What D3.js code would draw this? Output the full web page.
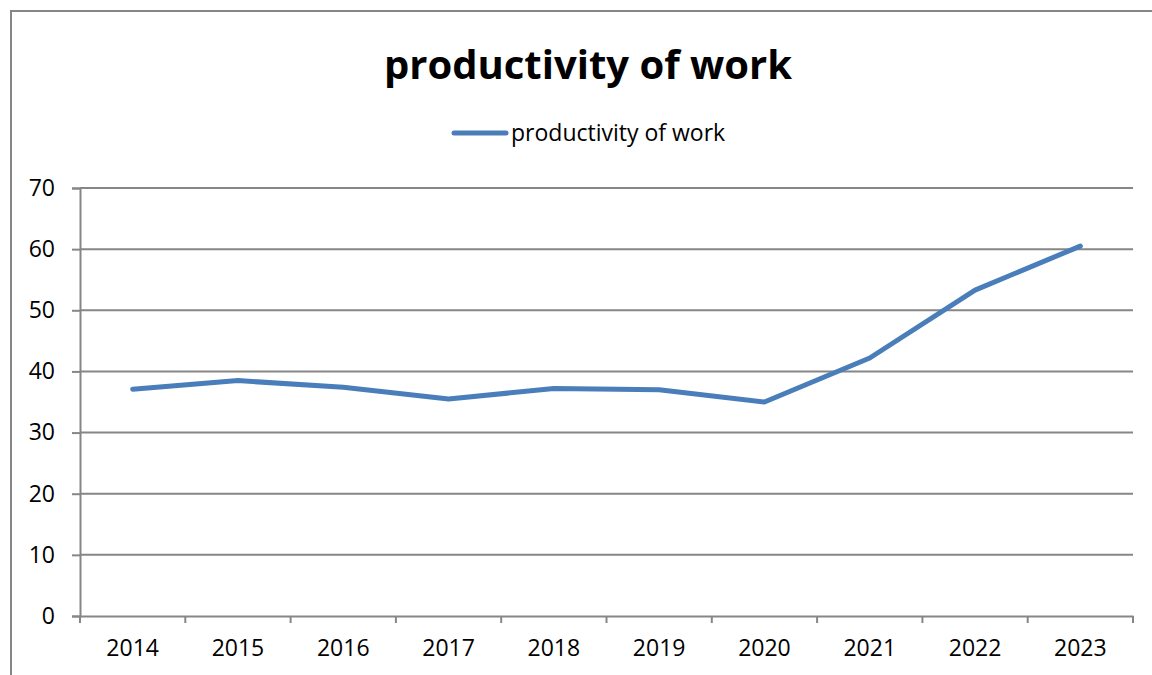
<!DOCTYPE html>
<html>
<head>
<meta charset="utf-8">
<script src="https://cdn.jsdelivr.net/npm/d3@7"></script>
<style>
  body { margin: 0; background: #fff; }
  text { font-family: "Open Sans", sans-serif; fill: #000; }
</style>
</head>
<body>
<div id="chart"></div>
<script>
// data
const years = ["2014", "2015", "2016", "2017", "2018", "2019", "2020", "2021", "2022", "2023"];
const productivity = [37.1, 38.5, 37.4, 35.5, 37.2, 37.0, 35.0, 42.2, 53.3, 60.5];
const yTicks = [0, 10, 20, 30, 40, 50, 60, 70];
const seriesName = "productivity of work";

const W = 1152, H = 675;
const MARGIN = { LEFT: 80, RIGHT: 19, TOP: 188, BOTTOM: 59 };
const WIDTH = W - MARGIN.LEFT - MARGIN.RIGHT;
const HEIGHT = H - MARGIN.TOP - MARGIN.BOTTOM;
const lineColor = "#4a7ebb", gridColor = "#868686";

const svg = d3.select("#chart").append("svg")
  .attr("width", W)
  .attr("height", H);

// outer frame
svg.append("rect")
  .attr("x", 11).attr("y", 11)
  .attr("width", 1160).attr("height", 700)
  .attr("fill", "none")
  .attr("stroke", gridColor)
  .attr("stroke-width", 2);

// title
svg.append("text")
  .attr("x", 588).attr("y", 79)
  .attr("text-anchor", "middle")
  .style("font-size", "40px")
  .style("font-weight", "bold")
  .text(seriesName);

// legend
svg.append("line")
  .attr("x1", 454).attr("x2", 506)
  .attr("y1", 133).attr("y2", 133)
  .attr("stroke", lineColor)
  .attr("stroke-width", 5)
  .attr("stroke-linecap", "round");
svg.append("text")
  .attr("x", 511).attr("y", 141)
  .style("font-size", "23px")
  .text(seriesName);

const g = svg.append("g")
  .attr("transform", `translate(${MARGIN.LEFT}, ${MARGIN.TOP})`);

const x = d3.scaleBand()
  .domain(years)
  .range([0, WIDTH]);

const y = d3.scaleLinear()
  .domain([0, 70])
  .range([HEIGHT, 0]);

// horizontal gridlines
g.selectAll(".grid")
  .data(yTicks.filter(d => d > 0))
  .join("line")
  .attr("class", "grid")
  .attr("x1", 0).attr("x2", WIDTH)
  .attr("y1", d => y(d)).attr("y2", d => y(d))
  .attr("stroke", gridColor)
  .attr("stroke-width", 2);

// y axis
const yAxis = g.append("g")
  .call(d3.axisLeft(y).tickValues(yTicks).tickSize(8).tickPadding(17));
yAxis.select(".domain").attr("stroke", gridColor).attr("stroke-width", 2);
yAxis.selectAll(".tick line").attr("stroke", gridColor).attr("stroke-width", 2);
yAxis.selectAll(".tick text").style("font-size", "23px").attr("fill", "#000");

// x axis, ticks on category boundaries
const xAxis = g.append("g")
  .attr("transform", `translate(0, ${HEIGHT})`)
  .call(d3.axisBottom(x).tickSize(0).tickPadding(24));
xAxis.select(".domain").attr("stroke", gridColor).attr("stroke-width", 2);
xAxis.selectAll(".tick text").style("font-size", "23px").attr("fill", "#000");

g.selectAll(".xtick")
  .data(d3.range(years.length + 1))
  .join("line")
  .attr("class", "xtick")
  .attr("x1", i => i * x.step()).attr("x2", i => i * x.step())
  .attr("y1", HEIGHT).attr("y2", HEIGHT + 7)
  .attr("stroke", gridColor)
  .attr("stroke-width", 2);

// the line
const line = d3.line()
  .x((d, i) => x(years[i]) + x.bandwidth() / 2)
  .y(d => y(d));

g.append("path")
  .datum(productivity)
  .attr("fill", "none")
  .attr("stroke", lineColor)
  .attr("stroke-width", 5)
  .attr("stroke-linecap", "round")
  .attr("stroke-linejoin", "round")
  .attr("d", line);
</script>
</body>
</html>
